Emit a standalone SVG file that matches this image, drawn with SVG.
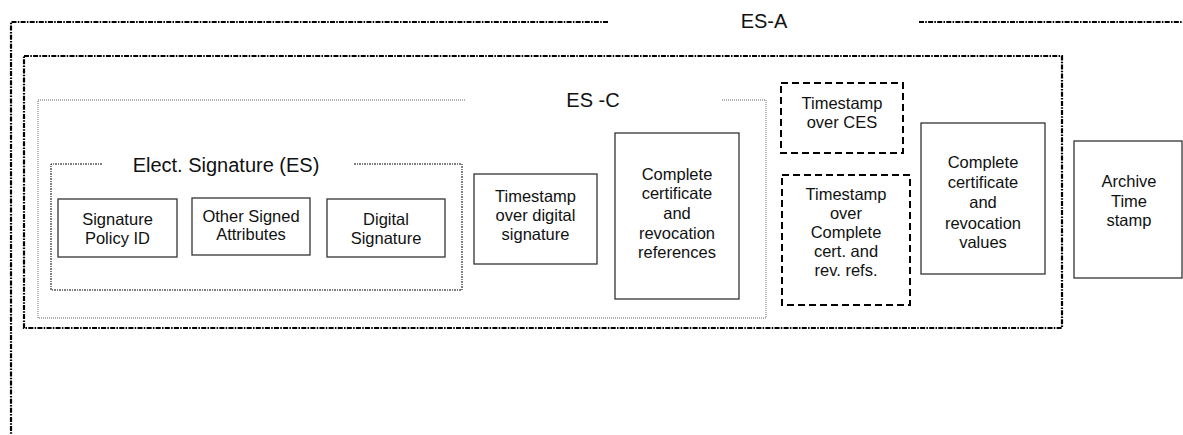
<svg xmlns="http://www.w3.org/2000/svg" width="1183" height="435" viewBox="0 0 1183 435">
<style>
text{font-family:"Liberation Sans",Arial,sans-serif;fill:#111;text-anchor:middle}
.t{font-size:16.5px}
.lbl{font-size:20px}
.box{fill:#fff;stroke:#333;stroke-width:1.3}
.dash{fill:#fff;stroke:#000;stroke-width:2;stroke-dasharray:7 4}
.dd{fill:none;stroke:#000;stroke-width:2.2;stroke-dasharray:5 1.3 1.5 1.3}
.esc{fill:none;stroke:#999;stroke-width:1.4;stroke-dasharray:1 1}
.es{fill:none;stroke:#000;stroke-width:1;stroke-dasharray:2 1 1 1}
</style>
<rect width="1183" height="435" fill="#fff"/>
<g id="es-a">
<path class="dd" d="M608,22 H11 V436 M919,22 H1184"/>
<text class="lbl" x="764" y="28">ES-A</text>
</g>
<g id="es-x">
<rect class="dd" x="24" y="56" width="1038" height="272"/>
</g>
<g id="es-c">
<path class="esc" d="M465,100 H38 V318 H766 V100 H722"/>
<text class="lbl" x="593" y="107">ES -C</text>
</g>
<g id="es">
<path class="es" d="M102,164 H51 V290 H462 V164 H353"/>
<text class="lbl" x="226" y="172">Elect. Signature (ES)</text>
</g>
<g id="sig-policy">
<rect class="box" x="58" y="199" width="119" height="58"/>
<text class="t" x="117.5" y="225">Signature</text>
<text class="t" x="117.5" y="243.5">Policy ID</text>
</g>
<g id="other-attrs">
<rect class="box" x="192" y="198" width="118" height="57"/>
<text class="t" x="251" y="221.5">Other Signed</text>
<text class="t" x="251" y="240">Attributes</text>
</g>
<g id="digital-sig">
<rect class="box" x="327" y="199" width="118" height="58"/>
<text class="t" x="386" y="225">Digital</text>
<text class="t" x="386" y="243.5">Signature</text>
</g>
<g id="ts-digital">
<rect class="box" x="474" y="174" width="123" height="90"/>
<text class="t" x="535.5" y="202">Timestamp</text>
<text class="t" x="535.5" y="221">over digital</text>
<text class="t" x="535.5" y="240">signature</text>
</g>
<g id="cert-refs">
<rect class="box" x="615" y="133" width="124" height="166"/>
<text class="t" x="677" y="179.5">Complete</text>
<text class="t" x="677" y="199">certificate</text>
<text class="t" x="677" y="218.5">and</text>
<text class="t" x="677" y="238.5">revocation</text>
<text class="t" x="677" y="258">references</text>
</g>
<g id="ts-ces">
<rect class="dash" x="781" y="83" width="122" height="70"/>
<text class="t" x="842" y="109">Timestamp</text>
<text class="t" x="842" y="127.5">over CES</text>
</g>
<g id="ts-refs">
<rect class="dash" x="782" y="175" width="128" height="130"/>
<text class="t" x="846" y="200">Timestamp</text>
<text class="t" x="846" y="219">over</text>
<text class="t" x="846" y="238">Complete</text>
<text class="t" x="846" y="257">cert. and</text>
<text class="t" x="846" y="276">rev. refs.</text>
</g>
<g id="cert-values">
<rect class="box" x="921" y="123" width="124" height="151"/>
<text class="t" x="983" y="168">Complete</text>
<text class="t" x="983" y="188">certificate</text>
<text class="t" x="983" y="208">and</text>
<text class="t" x="983" y="228.5">revocation</text>
<text class="t" x="983" y="248">values</text>
</g>
<g id="archive-ts">
<rect class="box" x="1074" y="141" width="108" height="137"/>
<text class="t" x="1129" y="187">Archive</text>
<text class="t" x="1129" y="207">Time</text>
<text class="t" x="1129" y="226">stamp</text>
</g>
<g id="connectors"/>
</svg>
